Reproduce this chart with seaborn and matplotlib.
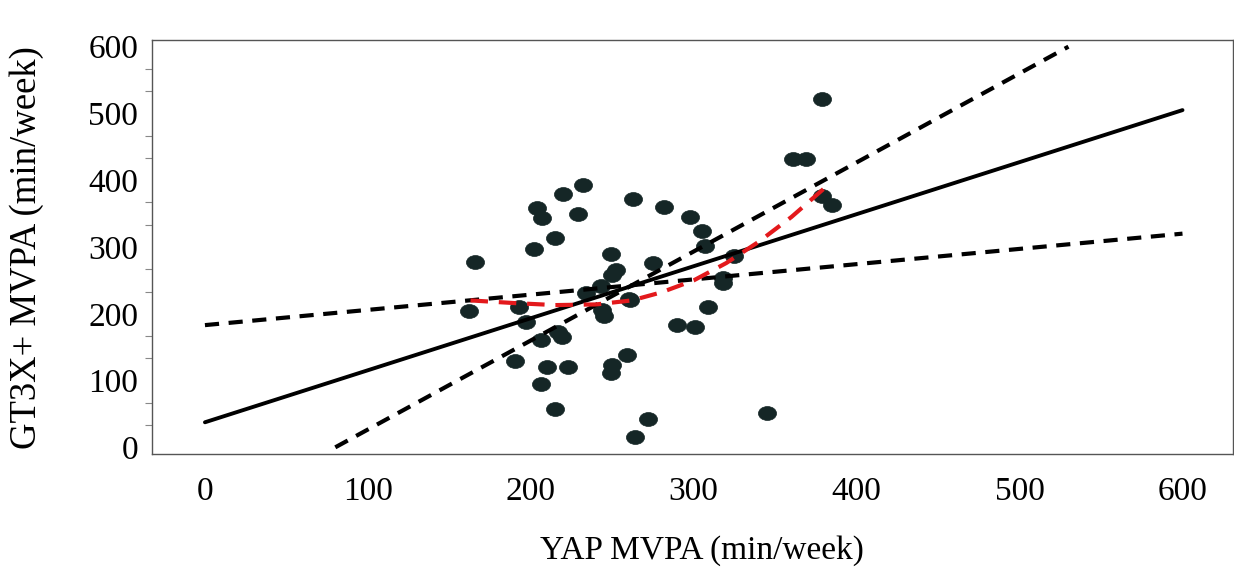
import numpy as np
import pandas as pd
import seaborn as sns
import matplotlib.pyplot as plt
from matplotlib.path import Path
from matplotlib.transforms import Affine2D
from matplotlib.ticker import MultipleLocator


# observed pairs: YAP MVPA (x) vs GT3X+ MVPA (y), min/week
yap_mvpa = [162, 166, 193, 197, 202, 204, 207, 206, 206, 210, 215, 217, 219, 220,
            223, 229, 232, 190, 215, 234, 243, 244, 245, 249, 250, 250, 252, 249,
            259, 260, 261, 263, 264, 272, 275, 282, 290, 298, 301, 305, 307, 309,
            318, 318, 325, 345, 361, 369, 379, 379, 385]
gt3x_mvpa = [204, 277, 210, 187, 297, 358, 343, 160, 95, 121, 313, 172, 165, 379,
             121, 349, 393, 130, 57, 231, 241, 205, 196, 111, 124, 258, 265, 289,
             139, 222, 220, 372, 16, 43, 276, 360, 183, 345, 180, 324, 301, 210,
             253, 246, 286, 52, 432, 432, 522, 376, 363]

# fitted line and confidence limits (end points of each line)
fit_x = [0, 600]
fit_y = [37.5, 505]
ci_a_x = [0, 600]
ci_a_y = [183, 320]
ci_b_x = [80, 530]
ci_b_y = [0, 600]

# loess smooth (red)
loess_x = [163, 190, 215, 240, 262, 280, 300, 320, 340, 360, 383]
loess_y = [220, 216, 213, 214, 220, 232, 250, 276, 308, 345, 394]

x_ticks = [0, 100, 200, 300, 400, 500, 600]
y_ticks = [0, 100, 200, 300, 400, 500, 600]

sns.set_theme(style="white")
plt.rcParams["font.family"] = ["Liberation Serif", "DejaVu Serif"]
plt.rcParams["axes.labelcolor"] = "black"

fig = plt.figure(figsize=(12.34, 5.71), dpi=100)
ax = fig.add_axes([152 / 1234, (571 - 454) / 571, (1233 - 152) / 1234, (454 - 40) / 571])

pts = pd.DataFrame({"x": yap_mvpa, "y": gt3x_mvpa})
ell = Path.unit_circle().transformed(Affine2D().scale(1.3, 1.0))
sns.scatterplot(data=pts, x="x", y="y", ax=ax, marker=ell, s=170,
                color="#152626", edgecolor="#152626", linewidth=0.5, zorder=3)

sns.lineplot(x=fit_x, y=fit_y, ax=ax, color="black", linewidth=2.8, zorder=4)
for lx, ly in [(ci_a_x, ci_a_y), (ci_b_x, ci_b_y)]:
    sns.lineplot(x=lx, y=ly, ax=ax, color="black", linewidth=3.0, zorder=4,
                 dashes=False).lines[-1].set_dashes([3.4, 2.3])
sns.lineplot(x=loess_x, y=loess_y, ax=ax, color="#e3191c", linewidth=3.0,
             zorder=5).lines[-1].set_dashes([4.2, 2.6])

ax.set_xlim(-32.5, 631)
ax.set_ylim(-10, 610)
ax.set_xticks(x_ticks)
ax.set_yticks(y_ticks)
ax.yaxis.set_minor_locator(MultipleLocator(100 / 3))
ax.tick_params(axis="both", which="major", direction="out", labelsize=24,
               color="#555555", width=1.0, labelcolor="black")
ax.tick_params(axis="x", which="major", length=10, pad=6)
ax.tick_params(axis="y", which="major", length=7, pad=3)
ax.tick_params(axis="y", which="minor", left=True, length=5, width=0.8,
               color="#888888", direction="out")
for side in ["left", "bottom", "top", "right"]:
    ax.spines[side].set_color("#555555")
    ax.spines[side].set_linewidth(1.0)

ax.set_xlabel("YAP MVPA (min/week)", fontsize=24)
ax.set_ylabel("GT3X+ MVPA (min/week)", fontsize=26.5)
ax.xaxis.set_label_coords((702 - 152) / (1233 - 152), -(535 - 454) / (454 - 40))
ax.yaxis.set_label_coords(-(152 - 44) / (1233 - 152), (454 - 248) / (454 - 40))

fig.savefig("out.png", dpi=100)
